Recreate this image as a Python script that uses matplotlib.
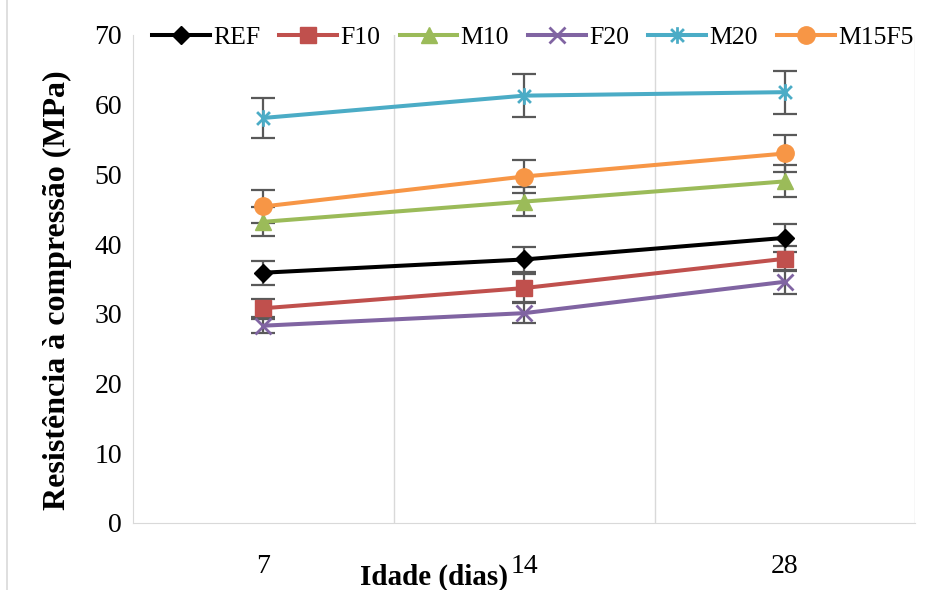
import numpy as np
import matplotlib.pyplot as plt
from matplotlib.path import Path
from matplotlib.lines import Line2D

plt.rcParams['font.family'] = ['Liberation Serif', 'DejaVu Serif']

idade = ['7', '14', '28']
series = ['REF', 'F10', 'M10', 'F20', 'M20', 'M15F5']
ref = [35.9, 37.8, 40.9]
f10 = [30.8, 33.7, 37.9]
m10 = [43.2, 46.1, 49.0]
f20 = [28.3, 30.1, 34.6]
m20 = [58.1, 61.3, 61.8]
m15f5 = [45.4, 49.7, 53.0]
err_ref = [1.75, 1.8, 2.0]
err_f10 = [1.3, 2.0, 1.8]
err_m10 = [2.1, 2.1, 2.3]
err_f20 = [1.0, 1.45, 1.7]
err_m20 = [2.9, 3.1, 3.1]
err_m15f5 = [2.3, 2.4, 2.6]

# excel style star: an x with a vertical bar
star = Path([(-1, -1), (1, 1), (-1, 1), (1, -1), (0, -1.3), (0, 1.3)],
            [Path.MOVETO, Path.LINETO, Path.MOVETO, Path.LINETO, Path.MOVETO, Path.LINETO])

estilo = {
    'REF': ('black', 'D', 9),
    'F10': ('#C0504D', 's', 11),
    'M10': ('#9BBB59', '^', 12),
    'F20': ('#8064A2', 'x', 11),
    'M20': ('#4BACC6', star, 12),
    'M15F5': ('#F79646', 'o', 12.5),
}
valores = [ref, f10, m10, f20, m20, m15f5]
erros = [err_ref, err_f10, err_m10, err_f20, err_m20, err_m15f5]

fig = plt.figure(figsize=(9.33, 5.9), dpi=100)
ax = fig.add_axes([0.1426, 0.1136, 0.981 - 0.1426, 0.9407 - 0.1136])

x = np.arange(len(idade))
for nome, v, e in zip(series, valores, erros):
    cor, mk, ms = estilo[nome]
    ax.errorbar(x, v, yerr=e, fmt='none', ecolor='#595959', elinewidth=1.6,
                capsize=8.5, capthick=1.6, zorder=2)
    ax.plot(x, v, color=cor, lw=2.9, marker=mk, ms=ms, mew=2 if mk in ('x', star) else 1,
            mec=cor, mfc=cor, label=nome, zorder=3)

for g in [0.5, 1.5, 2.5]:
    ax.axvline(g, color='#d9d9d9', lw=1, zorder=0)

ax.set_xlim(-0.5, 2.5)
ax.set_ylim(0, 70)
ax.set_yticks(range(0, 71, 10))
ax.set_xticks(x)
ax.set_xticklabels(idade)
ax.tick_params(axis='both', length=0, labelsize=20)
ax.tick_params(axis='x', pad=22)
ax.tick_params(axis='y', pad=8)
for s in ['top', 'right']:
    ax.spines[s].set_visible(False)
ax.spines['left'].set_color('#d9d9d9')
ax.spines['bottom'].set_color('#d9d9d9')

fig.text(57 / 933, 1 - 290 / 590, 'Resistência à compressão (MPa)', fontsize=23,
         fontweight='bold', rotation=90, ha='center', va='center')
fig.text(434 / 933, 1 - 577 / 590, 'Idade (dias)', fontsize=21, fontweight='bold',
         ha='center', va='center')

ax.legend(loc='upper center', bbox_to_anchor=(0.511, 1.04), ncol=6, frameon=False,
          fontsize=18.5, handlelength=2.25, handletextpad=0.12, columnspacing=0.75,
          borderaxespad=0)

fig.add_artist(Line2D([7 / 933, 7 / 933], [0, 1], color='#d9d9d9', lw=1.2))

fig.savefig('out.png', dpi=100)
